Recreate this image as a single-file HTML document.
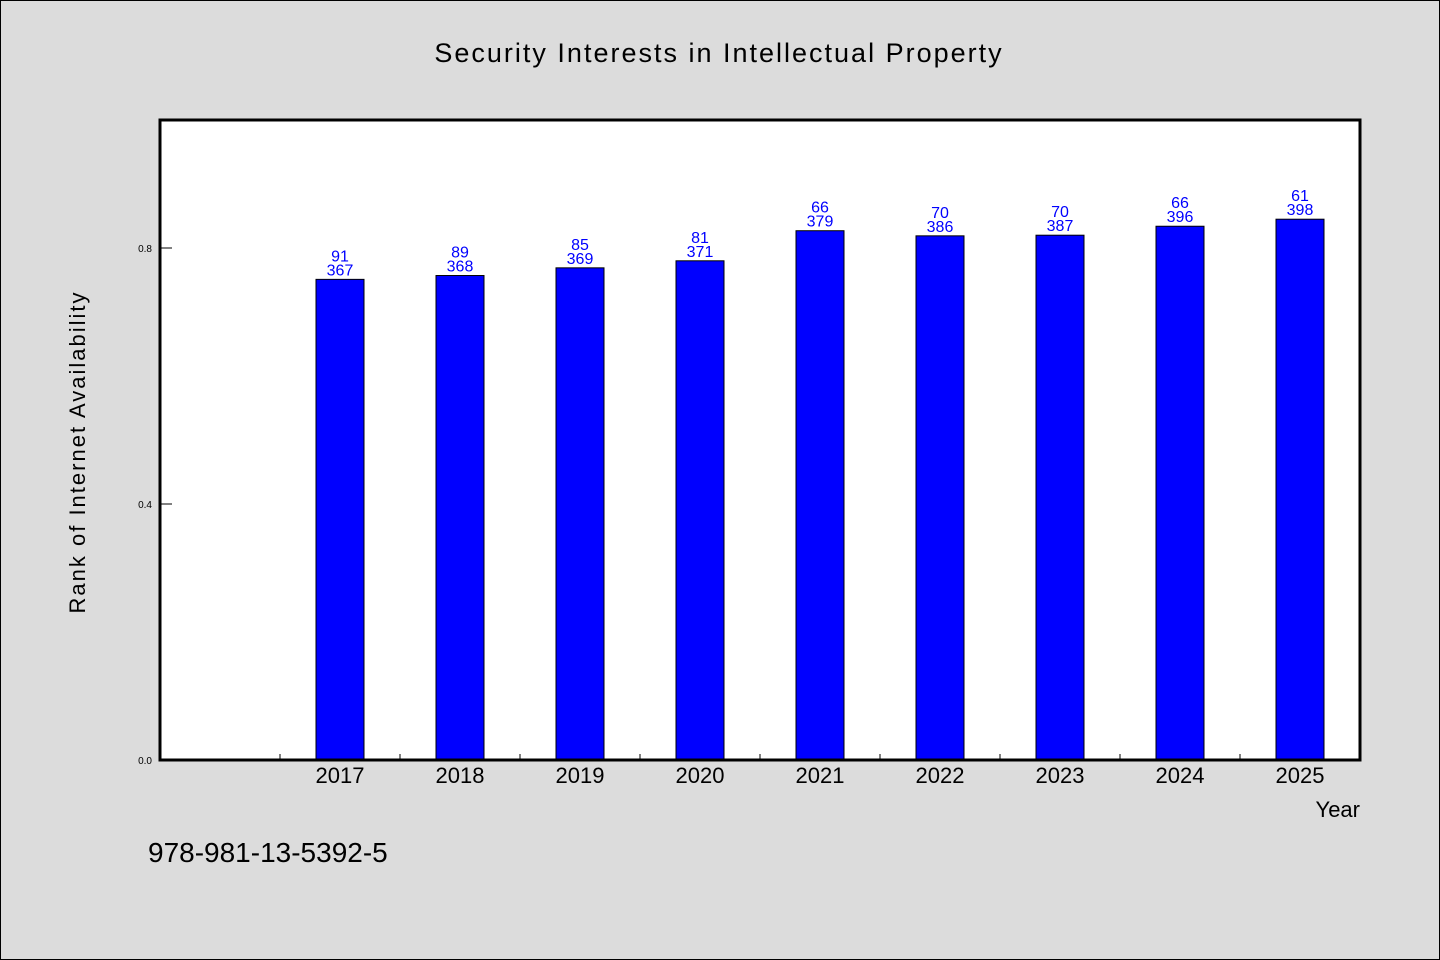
<!DOCTYPE html>
<html><head><meta charset="utf-8"><style>
body{margin:0;background:#dcdcdc;}
svg{display:block;font-family:"WenQuanYi Zen Hei","Liberation Sans",sans-serif;}
</style></head><body>
<svg id="chart" width="1440" height="960">
<rect x="0.5" y="0.5" width="1439" height="959" fill="#dcdcdc" stroke="#000"/>
<text x="719" y="62" text-anchor="middle" font-size="27" letter-spacing="2">Security Interests in Intellectual Property</text>
<rect x="160" y="120" width="1200" height="640" fill="#fff"/>
<g id="marks"></g>
<rect x="160" y="120" width="1200" height="640" fill="none" stroke="#000" stroke-width="3"/>
<text transform="translate(85,452) rotate(-90)" text-anchor="middle" font-size="22" letter-spacing="2">Rank of Internet Availability</text>
<text x="1360" y="817" text-anchor="end" font-size="22">Year</text>
<text x="148" y="862" font-size="28">978-981-13-5392-5</text>
</svg>
<script>
const categories=["","2017","2018","2019","2020","2021","2022","2023","2024","2025"];
const values=[null,0.751,0.757,0.769,0.780,0.827,0.819,0.820,0.834,0.845];
const labelTop=[null,91,89,85,81,66,70,70,66,61];
const labelBottom=[null,367,368,369,371,379,386,387,396,398];
const yTicks=[0.0,0.4,0.8];
const ns="http://www.w3.org/2000/svg";
const g=document.getElementById("marks");
const x0=160,w=1200,y0=760,h=640,yMax=1.0;
const slot=w/categories.length;
const xs=i=>x0+slot*i+slot/2;
const ys=v=>y0-v/yMax*h;
function mk(t,a){const e=document.createElementNS(ns,t);for(const k in a)e.setAttribute(k,a[k]);g.appendChild(e);return e;}
yTicks.forEach(v=>{
  const l=mk("line",{x1:x0,x2:x0+12,y1:ys(v),y2:ys(v),stroke:"#000","stroke-width":1});
  
  
  const t=mk("text",{x:x0-8,y:ys(v)+4,"text-anchor":"end","font-size":10});
  t.textContent=v.toFixed(1);
  
  
});
categories.forEach((c,i)=>{
  if(i>0){
    const tk=mk("line",{x1:x0+slot*i,x2:x0+slot*i,y1:y0,y2:y0-6,stroke:"#000","stroke-width":1});
    
    
  }
  if(values[i]==null)return;
  const bw=48,bx=xs(i)-bw/2,by=ys(values[i]);
  const r=mk("rect",{x:bx,y:by,width:bw,height:y0-by,fill:"#0000ff",stroke:"#000","stroke-width":1});
  
  
  const t1=mk("text",{x:xs(i),y:by-18,"text-anchor":"middle","font-size":16,fill:"#0000ff"});
  t1.textContent=labelTop[i];
  
  
  const t2=mk("text",{x:xs(i),y:by-4,"text-anchor":"middle","font-size":16,fill:"#0000ff"});
  t2.textContent=labelBottom[i];
  
  
  const xl=mk("text",{x:xs(i),y:y0+23,"text-anchor":"middle","font-size":22});
  xl.textContent=c;
  
  
});
</script>
</body></html>
